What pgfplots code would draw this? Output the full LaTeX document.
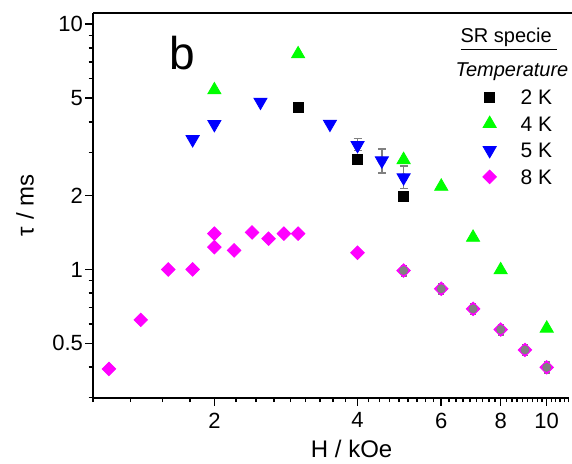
\documentclass[border=0pt]{standalone}
\usepackage{fontspec}
\setmainfont{Liberation Sans}
\usepackage{pgfplots}
\pgfplotsset{compat=1.18}
\usepackage{pgfplotstable}

\definecolor{pgreen}{RGB}{0,255,0}
\definecolor{pblue}{RGB}{0,0,255}
\definecolor{pmag}{RGB}{255,0,255}
\definecolor{egray}{RGB}{128,128,128}

% 2 K
\pgfplotstableread{
x y
3 4.56
4 2.81
5 1.99
}\twoK
% 4 K
\pgfplotstableread{
x y
2 5.39
3 7.56
5 2.80
6 2.18
7 1.35
8 0.995
10 0.575
}\fourK
% 5 K
\pgfplotstableread{
x y
1.8 3.39
2 3.91
2.5 4.82
3.5 3.92
4 3.21
4.5 2.78
5 2.37
}\fiveK
\pgfplotstableread{
x y ep em
4 3.21 0.21 0.15
4.5 2.78 0.32 0.30
5 2.37 0.27 0.23
}\fiveKerr
% 8 K
\pgfplotstableread{
x y
1.2 0.393
1.4 0.623
1.6 1.0
1.8 1.0
2 1.40
2 1.233
2.2 1.196
2.4 1.416
2.6 1.335
2.8 1.40
3 1.40
4 1.17
5 0.99
6 0.834
7 0.691
8 0.569
9 0.47
10 0.399
}\eightK
\pgfplotstableread{
x y ep em
5 0.99 0.05 0.05
6 0.834 0.04 0.04
7 0.691 0.035 0.035
8 0.569 0.028 0.028
9 0.47 0.023 0.023
10 0.399 0.02 0.02
}\eightKerr

\begin{document}
\begin{tikzpicture}
\begin{axis}[
    scale only axis,
    width=237.75pt, height=192.35pt,
    xmode=log, ymode=log,
    xmin=1.111, xmax=11.112, ymin=0.3, ymax=11.112,
    axis lines=left,
    axis line style={-, line width=1pt},
    tick align=outside,
    tick style={black, line width=0.75pt},
    major tick length=4pt, minor tick length=2.2pt,
    xtick={2,4,6,8,10}, xticklabels={2,4,6,8,10},
    minor xtick={1.1111,1.3333,1.5556,1.7778,
        2.2222,2.4444,2.6667,2.8889,3.1111,3.3333,3.5556,3.7778,
        4.2222,4.4444,4.6667,4.8889,5.1111,5.3333,5.5556,5.7778,
        6.2222,6.4444,6.6667,6.8889,7.1111,7.3333,7.5556,7.7778,
        8.2222,8.4444,8.6667,8.8889,9.1111,9.3333,9.5556,9.7778,
        10.2222,10.4444,10.6667,10.8889,11.1111},
    ytick={0.5,1,2,5,10}, yticklabels={0.5,1,2,5,10},
    minor ytick={0.3,0.4,0.6,0.7,0.8,0.9,3,4,6,7,8,9},
    ticklabel style={font=\fontsize{11}{13}\selectfont},
    yticklabel style={xshift=2.5pt},
    /pgf/number format/assume math mode=true,
    xlabel={H / kOe}, ylabel={τ / ms},
    every axis x label/.style={at={(rel axis cs:0.544,0)}, yshift=-25.7pt, anchor=center},
    every axis y label/.style={at={(rel axis cs:0,0.5)}, xshift=-34pt, rotate=90, anchor=center},
    label style={font=\fontsize{12}{14}\selectfont},
    clip=false,
    legend cell align=left,
    legend style={at={(rel axis cs:0.81657,0.81232)}, anchor=north west,
        draw=none, fill=none, inner sep=0pt, row sep=1.8pt, column sep=11.5pt,
        font=\fontsize{10.5}{12}\selectfont,
        nodes={inner sep=0pt, text height=9.5pt, text depth=2pt}},
    lg/.style={legend image code/.code={%
        \draw[##1] plot coordinates {(0pt,0pt)};
        \path[draw=none, fill=none] (-4pt,-4pt) rectangle (4pt,4pt);}},
]
\draw[line width=1pt] (rel axis cs:0,1) -- ([xshift=1.75pt]rel axis cs:1,1);

\addplot[only marks, lg, mark=square*, mark size=2.5pt, black] table {\twoK};
\addlegendentry{2 K}
\addplot[only marks, lg, mark=triangle*, mark size=3.8pt, pgreen] table {\fourK};
\addlegendentry{4 K}
\addplot[forget plot, egray, only marks, mark=none,
    error bars/.cd, y dir=both, y explicit,
    error bar style={draw=egray, line width=0.8pt, solid},
    error mark options={draw=egray, rotate=90, mark size=2pt, line width=0.8pt}]
    table[x=x, y=y, y error plus=ep, y error minus=em] {\fiveKerr};
\addplot[only marks, lg, mark=triangle*, mark size=3.8pt, mark options={rotate=180}, pblue] table {\fiveK};
\addlegendentry{5 K}
\addplot[only marks, lg, mark=square*, mark size=2.4pt, mark options={rotate=45}, pmag] table {\eightK};
\addlegendentry{8 K}
\addplot[forget plot, egray, only marks, mark=none,
    error bars/.cd, y dir=both, y explicit,
    error bar style={draw=egray, line width=0.7pt, solid},
    error mark options={draw=egray, rotate=90, mark size=1.5pt, line width=0.7pt}]
    table[x=x, y=y, y error plus=ep, y error minus=em] {\eightKerr};

\node[font=\fontsize{23}{27}\selectfont] at (axis cs:1.711,7.6) {b};
\node[anchor=base, font=\fontsize{10}{12}\selectfont] at (rel axis cs:0.8749,0.9228) {\underline{SR specie\ }};
\node[anchor=base, font=\fontsize{10}{12}\selectfont\itshape] at (rel axis cs:0.8812,0.8362) {Temperature};
\end{axis}
\pgfresetboundingbox
\path (-46.5pt,-33.15pt) rectangle (239.5pt,198.85pt);
\end{tikzpicture}
\end{document}
